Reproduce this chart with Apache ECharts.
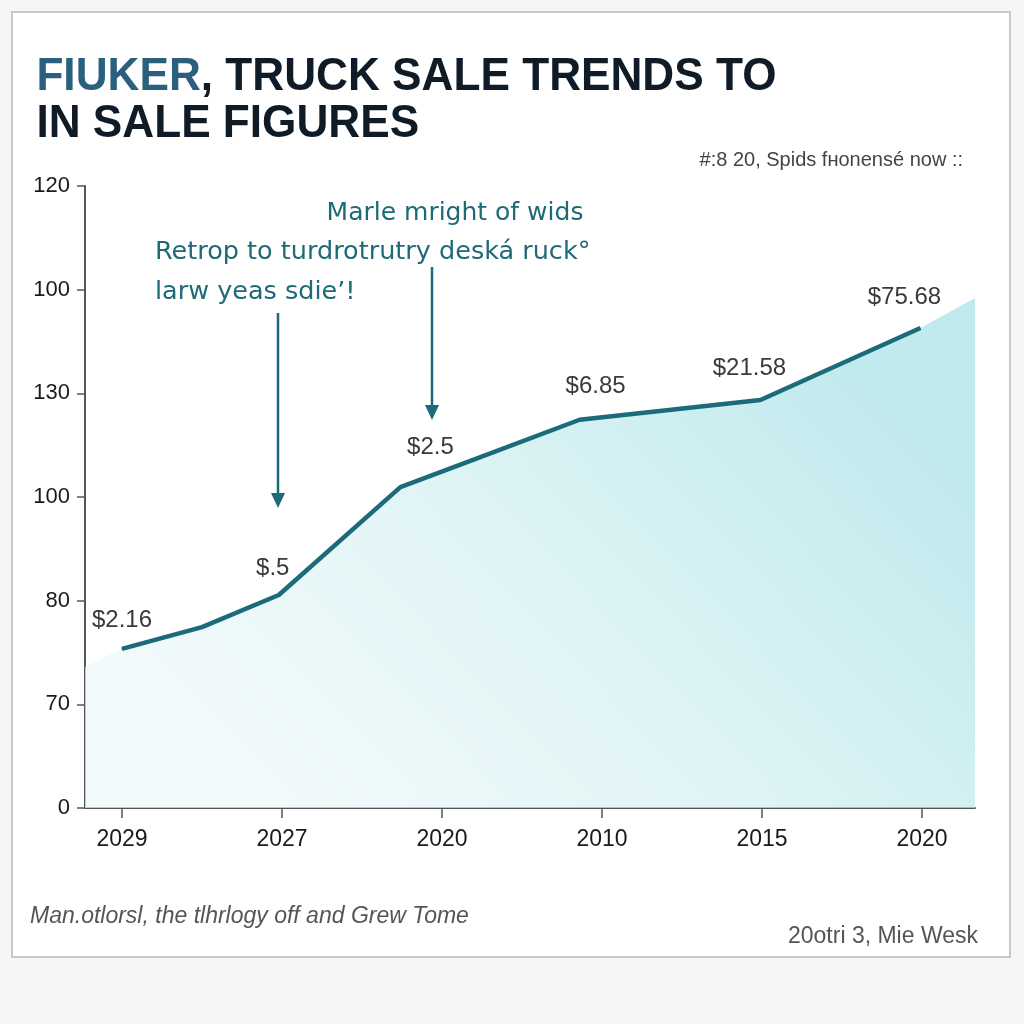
<!DOCTYPE html>
<html>
<head>
<meta charset="utf-8">
<script src="https://cdn.jsdelivr.net/npm/echarts@6/dist/echarts.min.js"></script>
<style>
html,body{margin:0;padding:0;background:#f6f6f6;}
#chart{width:1024px;height:1024px;}
</style>
</head>
<body>
<div id="chart"></div>
<script>
// ---- data ----
const xTickLabels = ['2029', '2027', '2020', '2010', '2015', '2020'];
const yTickLabels = ['0', '70', '80', '100', '130', '100', '120'];
const salesX = [0, 0.5, 0.98, 1.74, 2.19, 2.86, 3.99, 4.99];
const salesY = [30.7, 34.9, 41.1, 61.9, 67.1, 74.9, 78.7, 92.6];
const pointLabels = ['$2.16', '', '$.5', '$2.5', '', '$6.85', '$21.58', '$75.68'];
const areaStart = [-0.231, 27.2];
const areaEnd = [5.331, 98.4];

const titleLead = 'FIUKER';
const titleRest1 = ', TRUCK SALE TRENDS TO';
const titleLine2 = 'IN SALE FIGURES';
const subtitle = '#:8 20, Spids fʜonensé now ::';
const note1 = 'Marle mright of wids';
const note2 = 'Retrop to turdrotrutry deská ruck°';
const note3 = 'larw yeas sdie\u2019!';
const footLeft = 'Man.otlorsl, the tlhrlogy off and Grew Tome';
const footRight = '20otri 3, Mie Wesk';

// ---- build ----
const lineData = salesX.map((x, i) => [x, salesY[i]]);
const areaData = [areaStart].concat(lineData, [areaEnd]);
const labelOffsets = [[0, -28], [0, 0], [-6, -27], [30, -40], [0, 0], [16, -33], [-11, -32], [-16, -31]];

const teal = '#1b6b7b';
const font = '"Liberation Sans", Arial, sans-serif';

const chart = echarts.init(document.getElementById('chart'));
chart.setOption({
  backgroundColor: '#f6f6f6',
  animation: false,
  grid: { left: 85, right: 49, top: 186, bottom: 216 },
  xAxis: {
    type: 'value', min: areaStart[0], max: areaEnd[0],
    axisLine: { show: true, onZero: false, lineStyle: { color: '#555', width: 2 } },
    splitLine: { show: false },
    axisTick: { show: true, customValues: [0, 1, 2, 3, 4, 5], length: 10, inside: false, lineStyle: { color: '#555', width: 1.5 } },
    axisLabel: {
      customValues: [0, 1, 2, 3, 4, 5],
      formatter: v => xTickLabels[Math.round(v)],
      color: '#1a1a1a', fontSize: 23, fontFamily: font, margin: 20
    }
  },
  yAxis: {
    type: 'value', min: 0, max: 120, interval: 20,
    axisLine: { show: true, onZero: false, lineStyle: { color: '#555', width: 2 } },
    splitLine: { show: false },
    axisTick: { show: true, length: 8, lineStyle: { color: '#555', width: 1.5 } },
    axisLabel: {
      formatter: v => yTickLabels[Math.round(v / 20)],
      color: '#1a1a1a', fontSize: 22, fontFamily: font, margin: 15
    }
  },
  series: [
    {
      type: 'line', data: areaData, symbol: 'none', silent: true,
      lineStyle: { width: 0 },
      areaStyle: {
        color: new echarts.graphic.LinearGradient(0.8, 0, 0.2, 1, [
          { offset: 0, color: '#a6e1e6' },
          { offset: 0.55, color: '#d4f0f2' },
          { offset: 1, color: '#edf8fa' }
        ])
      },
      z: 1
    },
    {
      type: 'line', data: lineData, symbol: 'circle', symbolSize: 1,
      itemStyle: { color: teal },
      lineStyle: { color: teal, width: 4.5, join: 'round' },
      label: {
        show: true, position: 'inside',
        formatter: p => pointLabels[p.dataIndex],
        color: '#3a3a3a', fontSize: 24, fontFamily: font
      },
      labelLayout: function (params) {
        const o = labelOffsets[params.dataIndex];
        return { dx: o[0], dy: o[1] };
      },
      z: 3
    }
  ],
  graphic: [
    { type: 'rect', shape: { x: 12, y: 12, width: 998, height: 945 },
      style: { fill: '#ffffff', stroke: '#c9c9c9', lineWidth: 2 }, z: -10 },
    { type: 'text', x: 35, y: 77, scaleX: 0.96, originX: 35,
      style: {
        text: '{a|' + titleLead + '}{b|' + titleRest1 + '}',
        verticalAlign: 'middle',
        rich: {
          a: { fontSize: 46, fontWeight: 'bold', fontFamily: font, fill: '#2a5f7e' },
          b: { fontSize: 46, fontWeight: 'bold', fontFamily: font, fill: '#0f1c28' }
        }
      } },
    { type: 'text', x: 35, y: 124, scaleX: 0.96, originX: 35,
      style: { text: titleLine2, verticalAlign: 'middle', fontSize: 46, fontWeight: 'bold', fontFamily: font, fill: '#0f1c28' } },
    { type: 'text', x: 963, y: 160,
      style: { text: subtitle, align: 'right', verticalAlign: 'middle', fontSize: 20, fontFamily: font, fill: '#444' } },
    { type: 'text', x: 455, y: 213,
      style: { text: note1, align: 'center', verticalAlign: 'middle', fontSize: 25, fontFamily: '"DejaVu Sans", sans-serif', fill: '#1e6a78' } },
    { type: 'text', x: 155, y: 252,
      style: { text: note2, align: 'left', verticalAlign: 'middle', fontSize: 25.5, fontFamily: '"DejaVu Sans", sans-serif', fill: '#1e6a78' } },
    { type: 'text', x: 155, y: 292,
      style: { text: note3, align: 'left', verticalAlign: 'middle', fontSize: 25.5, fontFamily: '"DejaVu Sans", sans-serif', fill: '#1e6a78' } },
    { type: 'line', shape: { x1: 278, y1: 313, x2: 278, y2: 496 }, style: { stroke: teal, lineWidth: 2.5 } },
    { type: 'polygon', shape: { points: [[271, 493], [285, 493], [278, 508]] }, style: { fill: teal } },
    { type: 'line', shape: { x1: 432, y1: 267, x2: 432, y2: 408 }, style: { stroke: teal, lineWidth: 2.5 } },
    { type: 'polygon', shape: { points: [[425, 405], [439, 405], [432, 420]] }, style: { fill: teal } },
    { type: 'text', x: 30, y: 917,
      style: { text: footLeft, verticalAlign: 'middle', fontSize: 23, fontStyle: 'italic', fontFamily: font, fill: '#555' } },
    { type: 'text', x: 978, y: 937,
      style: { text: footRight, align: 'right', verticalAlign: 'middle', fontSize: 23, fontFamily: font, fill: '#555' } }
  ]
});
</script>
</body>
</html>
